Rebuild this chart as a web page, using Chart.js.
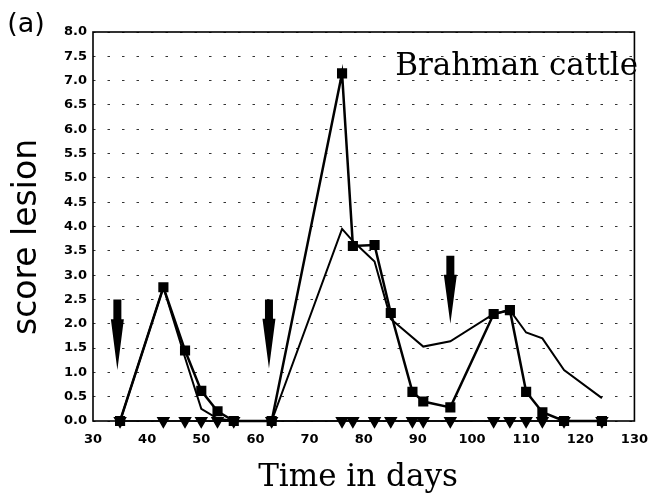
<!DOCTYPE html>
<html>
<head>
<meta charset="utf-8">
<script src="https://cdn.jsdelivr.net/npm/chart.js@4.4.1/dist/chart.umd.min.js"></script>
<style>
  html, body { margin: 0; padding: 0; background: #fff; }
</style>
</head>
<body>
<canvas id="chart" width="659" height="498"></canvas>
<script>
// sampling days (shared by all three series)
const days = [35, 43, 47, 50, 53, 56, 63, 76, 78, 82, 85, 89, 91, 96, 104, 107, 110, 113, 117, 124];
// thick line with square markers
const scoreSquares = [0, 2.75, 1.45, 0.62, 0.2, 0, 0, 7.15, 3.6, 3.62, 2.22, 0.6, 0.4, 0.28, 2.2, 2.28, 0.6, 0.18, 0, 0];
// thin line, no markers
const scoreLine = [0, 2.75, 1.3, 0.25, 0.05, 0, 0, 3.95, 3.7, 3.28, 2.1, null, 1.53, 1.64, 2.2, 2.28, 1.82, 1.7, 1.05, 0.47];
// control animals (triangles)
const scoreControl = [0, 0, 0, 0, 0, 0, 0, 0, 0, 0, 0, 0, 0, 0, 0, 0, 0, 0, 0, 0];

// infestation arrows: day, top and tip of arrow in score units
const arrowDays = [34.5, 62.5, 96];
const arrowTops = [2.5, 2.5, 3.4];
const arrowTips = [1.05, 1.08, 2.0];

const toPoints = (vals) => days.map((d, i) => ({x: d, y: vals[i]}));

const frameAndArrows = {
    id: 'frameAndArrows',
    beforeDatasetsDraw(chart) {
        const {ctx, chartArea: a, scales: {x, y}} = chart;
        ctx.save();
        ctx.strokeStyle = '#000';
        ctx.lineWidth = 1.6;
        ctx.strokeRect(a.left, a.top, a.right - a.left, a.bottom - a.top);

        ctx.fillStyle = '#000';
        arrowDays.forEach((d, i) => {
            const cx = x.getPixelForValue(d);
            const top = y.getPixelForValue(arrowTops[i]);
            const tip = y.getPixelForValue(arrowTips[i]);
            const neck = top + (tip - top) * 0.28;
            ctx.beginPath();
            ctx.moveTo(cx - 4, top);
            ctx.lineTo(cx + 4, top);
            ctx.lineTo(cx + 4, neck);
            ctx.lineTo(cx + 6.5, neck);
            ctx.lineTo(cx, tip);
            ctx.lineTo(cx - 6.5, neck);
            ctx.lineTo(cx - 4, neck);
            ctx.closePath();
            ctx.fill();
        });
        ctx.restore();
    },
    afterDraw(chart) {
        const {ctx} = chart;
        ctx.save();
        ctx.fillStyle = '#000';

        ctx.font = '27px "DejaVu Sans"';
        ctx.textAlign = 'center';
        ctx.textBaseline = 'middle';
        ctx.fillText('(a)', 26, 25);

        ctx.font = '31px "DejaVu Serif"';
        ctx.textAlign = 'right';
        ctx.textBaseline = 'alphabetic';
        ctx.fillText('Brahman cattle', 638, 75);

        ctx.textAlign = 'center';
        ctx.fillText('Time in days', 358, 486);

        ctx.translate(27, 237);
        ctx.rotate(-Math.PI / 2);
        ctx.font = '33px "DejaVu Sans"';
        ctx.textBaseline = 'middle';
        ctx.fillText('score lesion', 0, 0);
        ctx.restore();
    }
};

const tickFont = {family: '"DejaVu Sans"', size: 13, weight: 'bold'};

new Chart(document.getElementById('chart'), {
    type: 'line',
    data: {
        datasets: [
            {
                data: toPoints(scoreControl),
                borderColor: '#000',
                backgroundColor: '#000',
                borderWidth: 1.5,
                pointStyle: 'triangle',
                rotation: 180,
                pointRadius: 6.3,
                clip: false,
                tension: 0
            },
            {
                data: toPoints(scoreSquares),
                borderColor: '#000',
                backgroundColor: '#000',
                borderWidth: 2.5,
                pointStyle: 'rect',
                pointRadius: 5.4,
                clip: false,
                tension: 0
            },
            {
                data: toPoints(scoreLine),
                borderColor: '#000',
                borderWidth: 2,
                pointRadius: 0,
                spanGaps: true,
                tension: 0
            }
        ]
    },
    options: {
        responsive: false,
        animation: false,
        layout: {padding: {top: 32, right: 14, left: 0, bottom: 0}},
        plugins: {
            legend: {display: false},
            tooltip: {enabled: false}
        },
        scales: {
            x: {
                type: 'linear',
                min: 30,
                max: 130,
                grid: {display: false, drawTicks: false},
                border: {display: false},
                ticks: {stepSize: 10, color: '#000', font: tickFont, padding: 11, maxRotation: 0},
                afterFit: (s) => { s.height = 77; }
            },
            y: {
                min: 0,
                max: 8,
                grid: {color: '#333', lineWidth: 1, drawTicks: false},
                border: {display: false, dash: [2.5, 12]},
                ticks: {
                    stepSize: 0.5,
                    autoSkip: false,
                    color: '#000',
                    font: tickFont,
                    padding: 6,
                    callback: (v) => v.toFixed(1)
                },
                afterFit: (s) => { s.width = 93; }
            }
        }
    },
    plugins: [frameAndArrows]
});
</script>
</body>
</html>
